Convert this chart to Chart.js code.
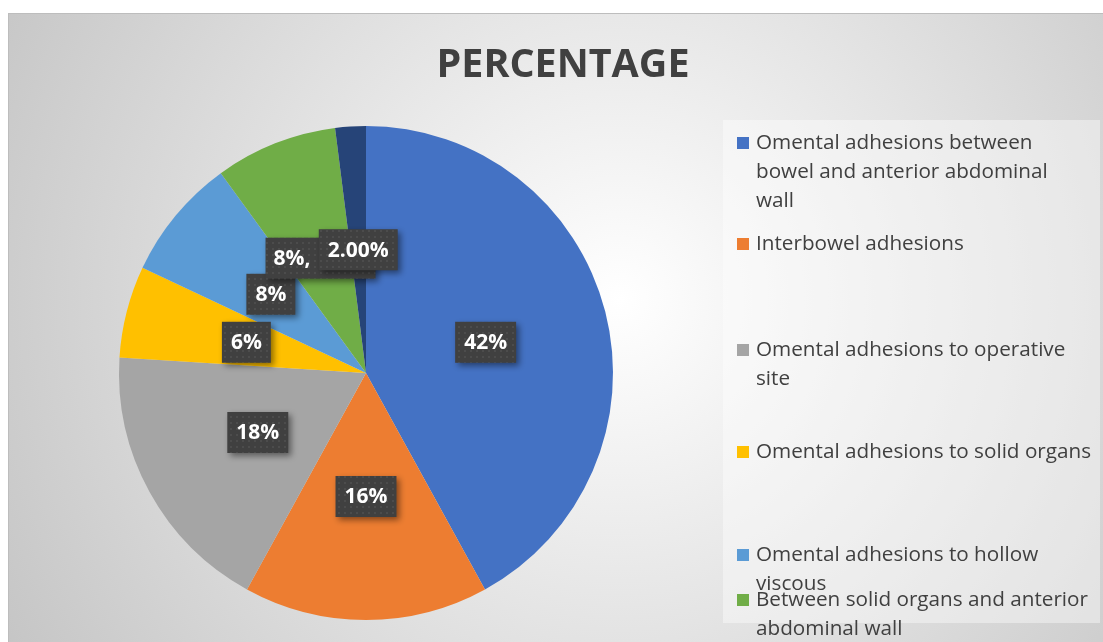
<!DOCTYPE html>
<html>
<head>
<meta charset="utf-8">
<script src="https://cdn.jsdelivr.net/npm/chart.js@4"></script>
<style>
  body { margin: 0; background: #fff; }
  canvas { display: block; }
</style>
</head>
<body>
<canvas id="myChart" width="1103" height="642"></canvas>
<script>
// data
var categories = [
  ['Omental adhesions between', 'bowel and anterior abdominal', 'wall'],
  ['Interbowel adhesions'],
  ['Omental adhesions to operative', 'site'],
  ['Omental adhesions to solid organs'],
  ['Omental adhesions to hollow', 'viscous'],
  ['Between solid organs and anterior', 'abdominal wall'],
  ['Others']
];
var percentages = [42, 16, 18, 6, 8, 8, 2];
var valueLabels = ['42%', '16%', '18%', '6%', '8%', '8%,', '2.00%'];
var sliceColors = ['#4472C4', '#ED7D31', '#A5A5A5', '#FFC000', '#5B9BD5', '#70AD47', '#264478'];

// legend rows (first text line centre) as excel placed them
var legendRowsY = [143, 244, 350, 452, 555, 600, 705];

function dotPattern(ctx) {
  var p = document.createElement('canvas');
  p.width = 6; p.height = 6;
  var c = p.getContext('2d');
  c.fillStyle = '#404040';
  c.fillRect(0, 0, 6, 6);
  c.fillStyle = '#4c4c4c';
  c.fillRect(2, 2, 2, 2);
  return ctx.createPattern(p, 'repeat');
}

var backdrop = {
  id: 'backdrop',
  beforeDraw: function(chart) {
    var ctx = chart.ctx;
    ctx.save();
    ctx.fillStyle = '#ffffff';
    ctx.fillRect(0, 0, chart.width, chart.height);
    var g = ctx.createRadialGradient(620, 300, 0, 620, 300, 720);
    g.addColorStop(0, '#ffffff');
    g.addColorStop(1, '#c4c4c4');
    ctx.fillStyle = g;
    ctx.fillRect(8, 13, chart.width - 8, chart.height - 13);
    ctx.fillStyle = '#bdbdbd';
    ctx.fillRect(8, 13, chart.width - 8, 1);
    ctx.fillRect(8, 13, 1, chart.height - 13);
    // legend panel
    ctx.fillStyle = 'rgba(255,255,255,0.4)';
    ctx.fillRect(723, 120, 377, 503);
    // title
    ctx.fillStyle = '#404040';
    ctx.font = 'bold 40px "Open Sans"';
    ctx.textAlign = 'center';
    ctx.textBaseline = 'middle';
    var t = 'PERCENTAGE';
    var w = ctx.measureText(t).width;
    ctx.translate(563, 66);
    ctx.scale(253 / w, 1);
    ctx.fillText(t, 0, 0);
    ctx.restore();
  },
  afterDraw: function(chart) {
    var ctx = chart.ctx;
    // legend
    ctx.save();
    ctx.font = '20.7px "Open Sans"';
    ctx.textBaseline = 'middle';
    ctx.textAlign = 'left';
    categories.forEach(function(lines, i) {
      var y = legendRowsY[i];
      ctx.fillStyle = sliceColors[i];
      ctx.fillRect(737, y - 6, 12, 12);
      ctx.fillStyle = '#404040';
      lines.forEach(function(line, k) {
        ctx.fillText(line, 756, y + k * 29);
      });
    });
    ctx.restore();

    // data labels
    var meta = chart.getDatasetMeta(0);
    var pat = dotPattern(ctx);
    meta.data.forEach(function(arc, i) {
      var mid = (arc.startAngle + arc.endAngle) / 2;
      var r = arc.outerRadius * 0.5;
      var cx = arc.x + Math.cos(mid) * r;
      var cy = arc.y + Math.sin(mid) * r;
      ctx.save();
      ctx.font = 'bold 21px "Open Sans"';
      var tw = ctx.measureText(valueLabels[i]).width;
      var bw = tw + 18;
      if (i === 5) { bw = 110; }
      var bh = 41;
      ctx.shadowColor = 'rgba(0,0,0,0.45)';
      ctx.shadowBlur = 6;
      ctx.shadowOffsetX = 3;
      ctx.shadowOffsetY = 3;
      ctx.fillStyle = pat;
      ctx.fillRect(cx - bw / 2, cy - bh / 2, bw, bh);
      ctx.shadowColor = 'transparent';
      ctx.fillStyle = '#ffffff';
      ctx.textBaseline = 'middle';
      if (i === 5) {
        ctx.textAlign = 'left';
        ctx.fillText(valueLabels[i], cx - bw / 2 + 8, cy + 1);
      } else {
        ctx.textAlign = 'center';
        ctx.fillText(valueLabels[i], cx, cy + 1);
      }
      ctx.restore();
    });
  }
};

new Chart(document.getElementById('myChart'), {
  type: 'pie',
  data: {
    labels: categories.map(function(l) { return l.join(' '); }),
    datasets: [{
      data: percentages,
      backgroundColor: sliceColors,
      borderWidth: 0
    }]
  },
  options: {
    responsive: false,
    animation: false,
    layout: { padding: { left: 119, right: 490, top: 126, bottom: 22 } },
    plugins: {
      legend: { display: false },
      title: { display: false },
      tooltip: { enabled: false }
    }
  },
  plugins: [backdrop]
});
</script>
</body>
</html>
